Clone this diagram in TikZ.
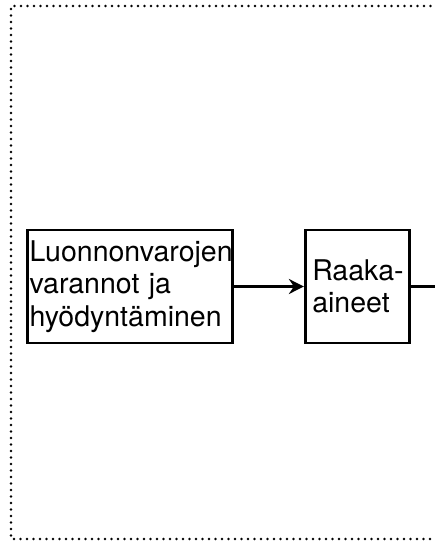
\documentclass[tikz,border=0pt]{standalone}
\usepackage{fontspec}
\setmainfont{TeX Gyre Heros}
\usetikzlibrary{arrows.meta,positioning}

\begin{document}
\begin{tikzpicture}[x=1pt, y=-1pt,
		vaihe/.style={draw, line width=2.8pt, align=left, inner ysep=2pt,
			minimum height=113pt, font=\fontsize{28.5}{32.5}\selectfont},
		virta/.style={line width=3.4pt, -{Stealth[length=15pt,width=15pt,inset=5pt]}}]
			%%%%% START %%%%%
			
			\useasboundingbox (0, 0) rectangle (434, 543);
			
			\draw[line width=2.8pt, line cap=round, dash pattern=on 0pt off 6.5pt]
				(450, 6) -- (11, 6) -- (11, 539) -- (450, 539);
			
			\node[vaihe, text width=201pt, inner xsep=2pt] (luonnonvarat) at (130, 286.5)
				{\mbox{Luonnonvarojen}\\varannot ja\\\mbox{hyödyntäminen}};
			\node[vaihe, text width=90pt, inner xsep=7pt, right=70pt of luonnonvarat] (raakaaineet)
				{\mbox{Raaka-}\\aineet};
			\coordinate[right=40pt of raakaaineet] (jatko);
			
			\draw[virta] (luonnonvarat) -- (raakaaineet);
			\draw[line width=3.4pt] (raakaaineet) -- (jatko);
			
			%%%%% END %%%%%
		\end{tikzpicture}
\end{document}
